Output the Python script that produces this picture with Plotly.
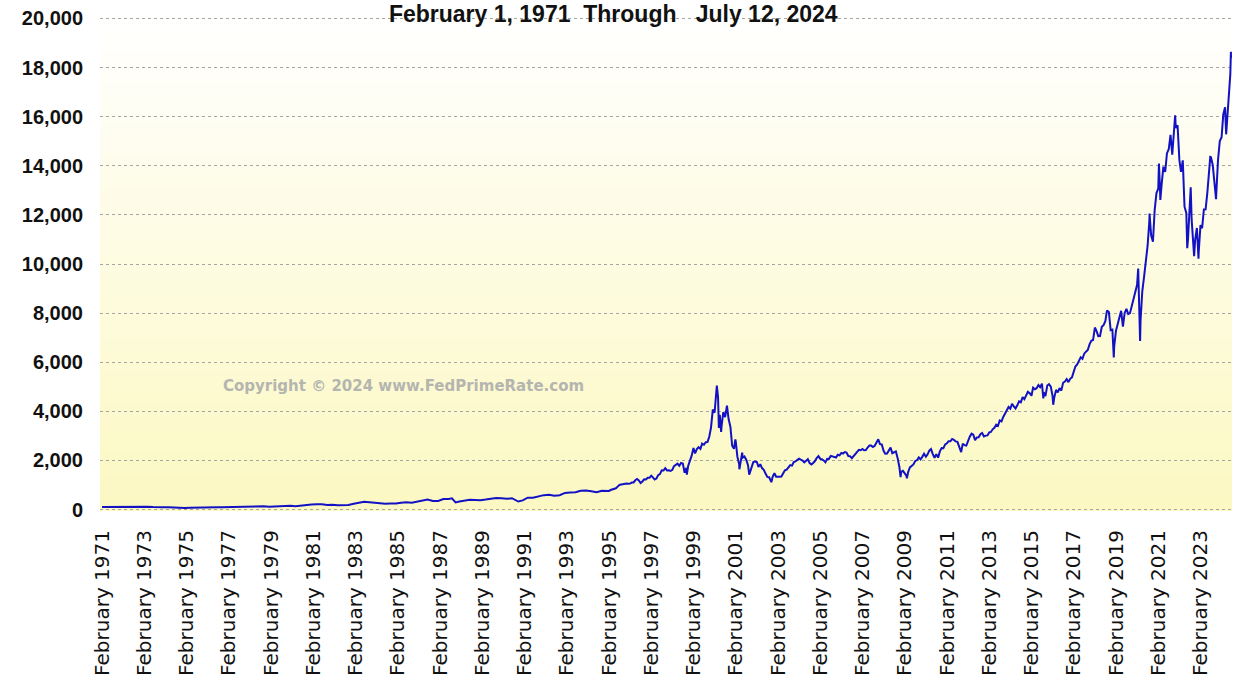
import pandas as pd
import plotly.graph_objects as go

# ---------------- data ----------------
early_dates = [
    "1971-02-01", "1971-04-30", "1971-07-30", "1971-10-29", "1971-12-31",
    "1972-03-31", "1972-06-30", "1972-09-29", "1972-12-29",
    "1973-03-30", "1973-06-29", "1973-09-28", "1973-12-31",
    "1974-03-29", "1974-06-28", "1974-10-03", "1974-12-31",
    "1975-03-31", "1975-06-30", "1975-09-30", "1975-12-31",
    "1976-03-31", "1976-06-30", "1976-09-30", "1976-12-31",
    "1977-03-31", "1977-06-30", "1977-09-30", "1977-12-30",
    "1978-03-31", "1978-06-30", "1978-09-29", "1978-12-29",
    "1979-03-30", "1979-06-29", "1979-09-28", "1979-12-31",
    "1980-03-31", "1980-06-30", "1980-09-30", "1980-12-31",
    "1981-03-31", "1981-06-30", "1981-09-30", "1981-12-31",
    "1982-03-31", "1982-06-30", "1982-09-30", "1982-12-31",
    "1983-03-31", "1983-06-30", "1983-09-30", "1983-12-30",
    "1984-03-30", "1984-06-29", "1984-09-28", "1984-12-31",
    "1985-03-29", "1985-06-28", "1985-09-30", "1985-12-31",
    "1986-03-31", "1986-06-30", "1986-09-30", "1986-12-31",
    "1987-03-31", "1987-06-30", "1987-08-26", "1987-10-28", "1987-12-31",
    "1988-03-31", "1988-06-30", "1988-09-30", "1988-12-30",
    "1989-03-31", "1989-06-30", "1989-09-29", "1989-12-29",
    "1990-03-30", "1990-06-29", "1990-10-16", "1990-12-31",
    "1991-03-28", "1991-06-28", "1991-09-30", "1991-12-31",
    "1992-03-31", "1992-06-30", "1992-09-30", "1992-12-31",
    "1993-03-31", "1993-06-30", "1993-09-30", "1993-12-31",
    "1994-03-31", "1994-06-30", "1994-09-30", "1994-12-30",
]
early_values = [
    100.0, 104.5, 105.0, 104.0, 114.1,
    128.1, 130.1, 130.0, 133.7,
    117.5, 103.1, 111.2, 92.2,
    89.5, 75.9, 54.9, 59.8,
    75.7, 83.5, 72.7, 77.6,
    90.6, 90.3, 91.0, 97.9,
    94.1, 99.8, 100.8, 105.1,
    107.7, 120.3, 132.9, 118.0,
    132.7, 137.0, 150.0, 151.1,
    131.0, 157.8, 187.8, 202.3,
    210.2, 215.8, 180.0, 195.8,
    175.7, 171.3, 187.6, 232.4,
    270.8, 318.7, 296.7, 278.6,
    249.3, 239.7, 249.9, 247.1,
    279.2, 296.2, 280.3, 324.9,
    374.7, 405.5, 350.7, 348.8,
    430.1, 424.7, 455.0, 291.9, 330.5,
    374.6, 394.7, 387.7, 381.4,
    406.7, 435.3, 472.9, 454.8,
    435.5, 462.3, 325.4, 373.8,
    482.3, 475.9, 526.9, 586.3,
    603.8, 563.6, 583.3, 677.0,
    690.1, 703.9, 762.8, 776.8,
    743.5, 706.0, 764.3, 752.0,
]

# month-end closes, January 1995 .. June 2024
monthly_start = "1995-01-31"
monthly_values = [
    755.2, 793.7, 817.2, 844.0, 864.6, 933.5, 1001.2, 1020.1, 1043.5, 1036.1, 1059.2, 1052.1,        # 1995
    1059.8, 1100.1, 1101.4, 1190.5, 1243.4, 1185.0, 1080.6, 1141.5, 1226.9, 1221.5, 1292.6, 1291.0,   # 1996
    1379.9, 1309.0, 1221.7, 1260.8, 1400.3, 1442.1, 1593.8, 1587.3, 1685.7, 1593.6, 1600.6, 1570.4,   # 1997
    1619.4, 1770.5, 1835.7, 1868.4, 1778.9, 1894.7, 1872.4, 1499.3, 1694.0, 1771.4, 1949.5, 2192.7,   # 1998
    2505.9, 2288.0, 2461.4, 2542.9, 2470.5, 2686.1, 2638.5, 2739.4, 2746.2, 2966.4, 3336.2, 4069.3,   # 1999
    3940.4, 4696.7, 4572.8, 3860.7, 3400.9, 3966.1, 3767.0, 4206.4, 3672.8, 3369.6, 2597.9, 2470.5,   # 2000
    2772.7, 2151.8, 1840.3, 2116.2, 2110.5, 2160.5, 2027.1, 1805.4, 1498.8, 1690.2, 1930.6, 1950.4,   # 2001
    1934.0, 1731.5, 1845.4, 1688.2, 1615.7, 1463.2, 1328.3, 1315.0, 1172.1, 1329.8, 1478.8, 1335.5,   # 2002
    1320.9, 1337.5, 1341.2, 1464.3, 1595.9, 1622.8, 1735.0, 1810.5, 1786.9, 1932.2, 1960.3, 2003.4,   # 2003
    2066.2, 2029.8, 1994.2, 1920.2, 1986.7, 2047.8, 1887.4, 1838.1, 1896.8, 1975.0, 2096.8, 2175.4,   # 2004
    2062.4, 2051.7, 1999.2, 1921.7, 2068.2, 2057.0, 2184.8, 2152.1, 2151.7, 2120.3, 2232.8, 2205.3,   # 2005
    2305.8, 2281.4, 2339.8, 2322.6, 2178.9, 2172.1, 2091.5, 2183.8, 2258.4, 2366.7, 2431.8, 2415.3,   # 2006
    2463.9, 2416.2, 2421.6, 2525.1, 2604.5, 2603.2, 2546.3, 2596.4, 2701.5, 2859.1, 2661.0, 2652.3,   # 2007
    2389.9, 2271.5, 2279.1, 2412.8, 2522.7, 2293.0, 2325.6, 2367.5, 2091.9, 1721.0, 1535.6, 1577.0,   # 2008
    1476.4, 1377.8, 1528.6, 1717.3, 1774.3, 1835.0, 1979.0, 2009.1, 2122.4, 2045.1, 2144.6, 2269.2,   # 2009
    2147.4, 2238.3, 2398.0, 2461.2, 2257.0, 2109.2, 2254.7, 2114.0, 2368.6, 2507.4, 2498.2, 2652.9,   # 2010
    2700.1, 2782.3, 2781.1, 2873.5, 2835.3, 2773.5, 2756.4, 2579.5, 2415.4, 2684.4, 2620.3, 2605.2,   # 2011
    2813.8, 2966.9, 3091.6, 3046.4, 2827.3, 2935.1, 2939.5, 3067.0, 3116.2, 2977.2, 3010.2, 3019.5,   # 2012
    3142.1, 3160.2, 3267.5, 3328.8, 3455.9, 3403.3, 3626.4, 3589.9, 3771.5, 3919.7, 4059.9, 4176.6,   # 2013
    4104.0, 4308.1, 4199.0, 4114.6, 4242.6, 4408.2, 4370.0, 4580.3, 4493.4, 4630.7, 4791.6, 4736.1,   # 2014
    4635.2, 4963.5, 4900.9, 4941.4, 5070.0, 4986.9, 5128.3, 4776.5, 4620.2, 5053.8, 5108.7, 5007.4,   # 2015
    4614.0, 4558.0, 4869.9, 4775.4, 4948.1, 4843.0, 5162.1, 5213.2, 5312.0, 5189.1, 5323.7, 5383.1,   # 2016
    5614.8, 5825.4, 5911.7, 6047.6, 6198.5, 6140.4, 6348.1, 6428.7, 6496.0, 6727.7, 6873.0, 6903.4,   # 2017
    7411.5, 7273.0, 7063.4, 7066.3, 7442.1, 7510.3, 7671.8, 8109.5, 8046.4, 7305.9, 7330.5, 6635.3,   # 2018
    7281.7, 7532.5, 7729.3, 8095.4, 7453.2, 8006.2, 8175.4, 7962.9, 7999.3, 8292.4, 8665.5, 8972.6,   # 2019
    9150.9, 8567.4, 7700.1, 8889.6, 9489.9, 10058.8, 10745.3, 11775.5, 11167.5, 10911.6, 12198.7, 12888.3,  # 2020
    13070.7, 13192.3, 13246.9, 13962.7, 13748.7, 14504.0, 14672.7, 15259.2, 14448.6, 15498.4, 15537.7, 15645.0,  # 2021
    14239.9, 13751.4, 14220.5, 12334.6, 12081.4, 11028.7, 12390.7, 11816.2, 10575.6, 10988.2, 11468.0, 10466.5,  # 2022
    11584.6, 11455.5, 12221.9, 12226.6, 12935.3, 13787.9, 14346.0, 14035.0, 13219.3, 12851.2, 14226.2, 15011.4,  # 2023
    15164.0, 16091.9, 16379.5, 15657.8, 16735.0, 17732.6,                                                  # 2024
]

# intra-month highs and lows visible on the chart, plus the final close
extreme_dates = [
    "1998-10-08", "2000-03-10", "2000-04-14", "2000-05-23", "2000-09-01",
    "2001-01-24", "2001-04-04", "2001-05-22", "2001-09-21", "2002-10-09",
    "2007-10-31", "2008-11-20", "2009-03-09", "2011-10-03", "2015-08-24",
    "2016-02-11", "2018-08-29", "2018-12-24", "2020-02-19", "2020-03-23",
    "2020-09-02", "2021-02-12", "2021-03-08", "2021-11-19", "2022-06-16",
    "2022-08-15", "2022-10-13", "2022-12-28", "2023-07-19", "2023-10-27",
    "2024-04-19", "2024-07-10", "2024-07-12",
]
extreme_values = [
    1419.1, 5048.6, 3321.3, 3164.6, 4234.3,
    2859.1, 1638.8, 2313.9, 1423.2, 1114.1,
    2859.1, 1316.1, 1268.6, 2335.8, 4526.3,
    4266.8, 8109.7, 6192.9, 9817.2, 6860.7,
    12056.4, 14095.5, 12609.2, 16057.4, 10646.1,
    13128.1, 10321.4, 10213.3, 14358.0, 12643.0,
    15282.0, 18647.5, 18398.4,
]

tick_dates = [
    "1971-02-01", "1973-02-01", "1975-02-01", "1977-02-01", "1979-02-01",
    "1981-02-01", "1983-02-01", "1985-02-01", "1987-02-01", "1989-02-01",
    "1991-02-01", "1993-02-01", "1995-02-01", "1997-02-01", "1999-02-01",
    "2001-02-01", "2003-02-01", "2005-02-01", "2007-02-01", "2009-02-01",
    "2011-02-01", "2013-02-01", "2015-02-01", "2017-02-01", "2019-02-01",
    "2021-02-01", "2023-02-01",
]
tick_labels = [
    "February 1971", "February 1973", "February 1975", "February 1977", "February 1979",
    "February 1981", "February 1983", "February 1985", "February 1987", "February 1989",
    "February 1991", "February 1993", "February 1995", "February 1997", "February 1999",
    "February 2001", "February 2003", "February 2005", "February 2007", "February 2009",
    "February 2011", "February 2013", "February 2015", "February 2017", "February 2019",
    "February 2021", "February 2023",
]
y_ticks = [0, 2000, 4000, 6000, 8000, 10000, 12000, 14000, 16000, 18000, 20000]

title_text = "February 1, 1971  Through   July 12, 2024"
copyright_text = "Copyright © 2024 www.FedPrimeRate.com"

# ---------------- assemble series ----------------
monthly_dates = pd.date_range(start=monthly_start, periods=len(monthly_values), freq="ME")
df = pd.concat([
    pd.DataFrame({"date": pd.to_datetime(early_dates), "value": early_values}),
    pd.DataFrame({"date": monthly_dates, "value": monthly_values}),
    pd.DataFrame({"date": pd.to_datetime(extreme_dates), "value": extreme_values}),
]).sort_values("date").reset_index(drop=True)

fig = go.Figure()
fig.add_trace(go.Scatter(
    x=df["date"], y=df["value"], mode="lines",
    line=dict(color="#1212c4", width=2.0),
    hoverinfo="x+y", showlegend=False,
))

# vertical white -> pale-yellow gradient behind the plot area
n_bands = 60
top_rgb = (255, 255, 255)
bot_rgb = (252, 248, 194)
shapes = []
for i in range(n_bands):
    t = (i + 0.5) / n_bands  # 0 at bottom, 1 at top
    r = round(bot_rgb[0] + (top_rgb[0] - bot_rgb[0]) * t)
    g = round(bot_rgb[1] + (top_rgb[1] - bot_rgb[1]) * t)
    b = round(bot_rgb[2] + (top_rgb[2] - bot_rgb[2]) * t)
    shapes.append(dict(
        type="rect", xref="paper", yref="paper",
        x0=0, x1=1, y0=i / n_bands, y1=(i + 1) / n_bands + 0.002,
        fillcolor=f"rgb({r},{g},{b})", line=dict(width=0), layer="below",
    ))

fig.update_layout(
    width=1234, height=683,
    margin=dict(l=100, r=2, t=17, b=172),
    paper_bgcolor="white", plot_bgcolor="rgba(0,0,0,0)",
    shapes=shapes,
    title=dict(
        text=f"<b>{title_text}</b>",
        x=0.497, xanchor="center", xref="container",
        y=1 - 13.5 / 683, yanchor="middle", yref="container",
        font=dict(family="Liberation Sans, Arial", size=23, color="#111111"),
    ),
    annotations=[dict(
        text=f"<b>{copyright_text}</b>", xref="paper", yref="paper",
        x=0.107, y=0.253, xanchor="left", yanchor="middle", showarrow=False,
        font=dict(family="DejaVu Sans, Verdana", size=15, color="#b5b5b0"),
    )],
    xaxis=dict(
        type="date",
        range=["1970-12-28", "2024-07-29"],
        tickmode="array", tickvals=tick_dates, ticktext=tick_labels,
        tickangle=-90, ticks="", ticklabelstandoff=14,
        tickfont=dict(family="DejaVu Sans, Verdana", size=20, color="#111111"),
        showgrid=False, zeroline=False, showline=False,
    ),
    yaxis=dict(
        range=[-60, 20060],
        tickmode="array", tickvals=y_ticks, tickformat=",d",
        ticks="", ticklabelstandoff=16,
        tickfont=dict(family="Liberation Sans, Arial", size=20, color="#111111", weight="bold"),
        showgrid=True, gridcolor="#a5a5a5", gridwidth=1, griddash="3px,3px",
        zeroline=False, showline=False,
    ),
)

# remove the browser's default 8px page margin so the figure fills the window exactly
fig.write_html(
    "out.html",
    config={"displayModeBar": False},
    post_script="document.body.style.margin='0';",
)
